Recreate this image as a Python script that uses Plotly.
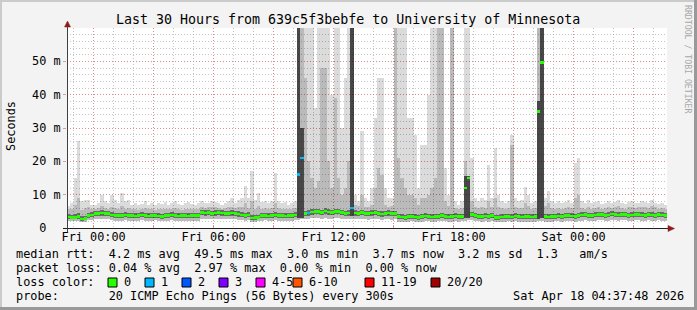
import numpy as np
import pandas as pd
import plotly.graph_objects as go

# ---------------- data (ms), one value per 10-minute step ----------------
median = [
    3.3, 3.2, 3.2, 3.4, 2.7, 2.8, 3.8, 3.9, 4.3, 4.4,
    4.5, 4.4, 4.3, 3.9, 3.8, 3.7, 3.8, 3.9, 3.7, 3.8,
    3.6, 3.7, 3.9, 3.8, 3.6, 3.7, 3.8, 3.6, 3.5, 3.7,
    3.8, 3.9, 3.7, 3.6, 3.8, 3.7, 3.6, 3.8, 3.7, 3.8,
    4.6, 4.5, 4.6, 4.4, 4.5, 4.6, 4.5, 4.3, 4.4, 4.5,
    4.4, 4.2, 3.9, 3.8, 3.9, 3.0, 3.1, 3.2, 3.7, 3.8,
    3.6, 3.7, 3.9, 3.8, 3.7, 3.6, 3.8, 3.7, 3.9, 16.0,
    21.0, 4.4, 4.5, 4.8, 5.0, 4.9, 4.7, 5.1, 4.8, 4.6,
    4.9, 5.0, 4.7, 4.3, 4.5, 6.0, 4.5, 4.4, 4.6, 4.4,
    4.3, 4.5, 4.7, 4.4, 4.2, 4.4, 4.5, 4.3, 4.4, 3.4,
    3.3, 3.2, 3.4, 3.5, 3.3, 3.2, 3.4, 3.6, 3.5, 3.3,
    3.4, 3.5, 3.7, 3.5, 3.3, 3.4, 3.6, 3.4, 3.5, 12.0,
    15.0, 4.0, 3.7, 3.5, 3.4, 3.6, 3.5, 3.7, 3.2, 3.1,
    3.3, 3.4, 3.5, 3.3, 3.6, 3.4, 3.3, 3.5, 3.4, 3.3,
    3.4, 35.0, 49.7, 3.4, 3.3, 3.4, 3.5, 3.6, 3.5, 3.7,
    3.8, 3.6, 3.5, 3.7, 3.9, 4.0, 3.8, 3.7, 3.9, 4.1,
    4.0, 3.8, 3.9, 4.2, 4.0, 3.9, 4.1, 4.0, 3.8, 3.9,
    4.0, 4.1, 3.9, 3.8, 4.0, 3.9, 3.8, 4.0, 3.9, 3.8,
]
loss = [
    0, 0, 0, 0, 0, 0, 0, 0, 0, 0,
    0, 0, 0, 0, 0, 0, 0, 0, 0, 0,
    0, 0, 0, 0, 0, 0, 0, 0, 0, 0,
    0, 0, 0, 0, 0, 0, 0, 0, 0, 0,
    0, 0, 0, 0, 0, 0, 0, 0, 0, 0,
    0, 0, 0, 0, 0, 0, 0, 0, 0, 0,
    0, 0, 0, 0, 0, 0, 0, 0, 0, 1,
    1, 0, 1, 0, 0, 0, 0, 0, 0, 0,
    0, 0, 0, 0, 0, 1, 0, 0, 0, 0,
    0, 0, 0, 0, 0, 0, 0, 0, 0, 0,
    0, 0, 0, 0, 0, 0, 0, 0, 0, 0,
    0, 0, 0, 0, 0, 0, 0, 0, 0, 0,
    0, 0, 0, 0, 0, 0, 0, 0, 0, 0,
    0, 0, 0, 0, 0, 0, 0, 0, 0, 0,
    0, 0, 0, 0, 0, 0, 0, 0, 0, 0,
    0, 0, 0, 0, 0, 0, 0, 0, 0, 0,
    0, 0, 0, 0, 0, 0, 0, 0, 0, 0,
    0, 0, 0, 0, 0, 0, 0, 0, 0, 0,
]
ping_max = [
    6.5, 7.5, 15, 26, 8, 8.4, 8.4, 7, 6.8, 7.5,
    10, 8, 7.5, 10, 8.5, 7.5, 10.5, 8, 8.4, 7,
    7.5, 6.8, 7.2, 8, 7, 7.4, 6.8, 7.6, 7.2, 7.8,
    7, 7.4, 8, 7.2, 6.8, 7.5, 7.8, 7.2, 7, 7.6,
    8, 7.6, 7.4, 8.2, 7.8, 7.4, 7, 7.6, 8, 9,
    7.4, 8.5, 9, 12.6, 9, 17, 8.5, 10.5, 7.8, 8,
    7.5, 8.2, 16.5, 8, 7.4, 7.8, 7, 7.6, 8, 61,
    61, 61, 61, 61, 36, 61, 61, 61, 61, 40,
    61, 61, 30, 45, 61, 61, 10, 8, 29, 9,
    8, 12, 33, 45, 45, 12, 9, 9, 61, 61,
    61, 61, 33, 33, 28, 12, 25, 25, 40, 61,
    61, 61, 61, 18, 10, 61, 8, 7, 8, 61,
    61, 21, 9, 8, 9, 8.5, 19, 9, 24, 10,
    8, 7.5, 8, 28, 9, 8, 8.5, 12.3, 10, 7.5,
    8, 61, 61, 9, 11, 8, 7.5, 8, 7.4, 7.8,
    8.4, 7.6, 19.5, 21, 8, 7.5, 8.4, 7.4, 7.8, 8,
    7.2, 7.6, 8.2, 7.4, 7.8, 8.4, 7.6, 7.2, 7.8, 8,
    7.4, 7.6, 8.2, 7.8, 7.4, 8.4, 7.6, 7.2, 7.5, 7.0,
]
ping_p80 = [
    5.6, 5.8, 7, 9, 5.5, 6, 6.2, 5.8, 5.6, 6,
    6.5, 6, 5.8, 6.4, 6, 5.6, 6.5, 5.8, 6, 5.6,
    5.6, 5.4, 5.6, 6, 5.6, 5.8, 5.4, 5.8, 5.6, 5.8,
    5.6, 5.8, 6, 5.6, 5.4, 5.8, 5.8, 5.6, 5.6, 5.8,
    6.2, 6, 6.2, 6.4, 6.2, 6, 5.8, 6, 6.2, 6.4,
    6, 6.2, 6.4, 7.5, 6, 8, 5.8, 6.5, 5.8, 6,
    5.6, 6, 7.5, 6, 5.8, 5.8, 5.6, 5.8, 6, 61,
    61, 45, 20, 15, 12, 14, 48, 48, 20, 12,
    39, 15, 10, 12, 20, 61, 7, 6.5, 10, 6.4,
    6.2, 7, 12, 18, 16, 7, 6.4, 6.5, 61, 21,
    15, 12, 10, 10, 9, 7, 9, 9, 10, 12,
    15, 61, 61, 8, 6.5, 61, 6, 5.6, 6, 20,
    14, 8, 6.4, 6, 6.2, 6, 8, 6.2, 9, 6.4,
    6, 5.8, 6, 25, 6.2, 6, 6, 7.5, 6.5, 5.8,
    6, 61, 61, 6.5, 7.5, 6, 5.8, 6, 5.8, 6,
    6.2, 6, 9, 10, 6, 5.8, 6.4, 5.8, 6, 6.2,
    5.8, 6, 6.4, 6, 6.2, 6.6, 6, 5.8, 6.2, 6.4,
    6, 6.2, 6.4, 6.2, 6, 6.6, 6.2, 5.8, 6, 5.8,
]
ping_min = [
    2.2, 2.1, 2.0, 2.2, 1.8, 1.9, 2.3, 2.4, 2.6, 2.7,
    2.8, 2.7, 2.6, 2.3, 2.2, 2.1, 2.2, 2.3, 2.1, 2.2,
    2.1, 2.2, 2.3, 2.2, 2.1, 2.2, 2.3, 2.1, 2.0, 2.2,
    2.2, 2.3, 2.1, 2.0, 2.2, 2.1, 2.0, 2.2, 2.1, 2.2,
    2.8, 2.7, 2.8, 2.6, 2.7, 2.8, 2.7, 2.6, 2.6, 2.7,
    2.6, 2.5, 2.3, 2.2, 2.3, 1.8, 1.9, 2.0, 2.2, 2.3,
    2.1, 2.2, 2.3, 2.2, 2.1, 2.0, 2.2, 2.1, 2.3, 2.4,
    2.6, 2.6, 2.7, 2.9, 3.0, 2.9, 2.8, 3.0, 2.8, 2.7,
    2.9, 3.0, 2.8, 2.6, 2.7, 2.8, 2.7, 2.6, 2.8, 2.6,
    2.5, 2.7, 2.8, 2.6, 2.5, 2.6, 2.7, 2.5, 2.6, 1.9,
    1.9, 1.8, 1.9, 2.0, 1.9, 1.8, 1.9, 2.0, 2.0, 1.9,
    1.9, 2.0, 2.1, 2.0, 1.9, 1.9, 2.0, 1.9, 2.0, 2.2,
    2.4, 2.3, 2.1, 2.0, 1.9, 2.0, 1.9, 2.1, 1.8, 1.7,
    1.8, 1.9, 2.0, 1.8, 2.0, 1.9, 1.8, 1.9, 1.9, 1.8,
    1.9, 2.0, 2.2, 1.9, 1.8, 1.9, 2.0, 2.0, 1.9, 2.1,
    2.2, 2.0, 1.9, 2.1, 2.2, 2.3, 2.2, 2.1, 2.2, 2.4,
    2.3, 2.2, 2.2, 2.5, 2.3, 2.2, 2.4, 2.3, 2.2, 2.2,
    2.3, 2.4, 2.2, 2.1, 2.3, 2.2, 2.1, 2.3, 2.2, 2.1,
]
dense_lo = [
    2.7, 2.6, 2.6, 2.8, 2.2, 2.3, 3.1, 3.2, 3.5, 3.6,
    3.7, 3.6, 3.5, 3.2, 3.1, 3.0, 3.1, 3.2, 3.0, 3.1,
    2.9, 3.0, 3.2, 3.1, 2.9, 3.0, 3.1, 2.9, 2.8, 3.0,
    3.1, 3.2, 3.0, 2.9, 3.1, 3.0, 2.9, 3.1, 3.0, 3.1,
    3.8, 3.7, 3.8, 3.6, 3.7, 3.8, 3.7, 3.5, 3.6, 3.7,
    3.6, 3.4, 3.2, 3.1, 3.2, 2.4, 2.5, 2.6, 3.0, 3.1,
    2.9, 3.0, 3.2, 3.1, 3.0, 2.9, 3.1, 3.0, 3.2, 3.0,
    3.0, 3.6, 3.7, 4.0, 4.2, 4.1, 3.9, 4.3, 4.0, 3.8,
    4.1, 4.2, 3.9, 3.5, 3.7, 3.5, 3.7, 3.6, 3.8, 3.6,
    3.5, 3.7, 3.9, 3.6, 3.4, 3.6, 3.7, 3.5, 3.6, 2.7,
    2.6, 2.5, 2.7, 2.8, 2.6, 2.5, 2.7, 2.9, 2.8, 2.6,
    2.7, 2.8, 3.0, 2.8, 2.6, 2.7, 2.9, 2.7, 2.8, 3.0,
    3.0, 3.2, 3.0, 2.8, 2.7, 2.9, 2.8, 3.0, 2.5, 2.4,
    2.6, 2.7, 2.8, 2.6, 2.9, 2.7, 2.6, 2.8, 2.7, 2.6,
    2.7, 2.8, 3.0, 2.7, 2.6, 2.7, 2.8, 2.9, 2.8, 3.0,
    3.1, 2.9, 2.8, 3.0, 3.2, 3.3, 3.1, 3.0, 3.2, 3.4,
    3.3, 3.1, 3.2, 3.5, 3.3, 3.2, 3.4, 3.3, 3.1, 3.2,
    3.3, 3.4, 3.2, 3.1, 3.3, 3.2, 3.1, 3.3, 3.2, 3.1,
]
dense_hi = [
    4.1, 4.0, 4.1, 4.4, 3.6, 3.7, 4.6, 4.7, 5.1, 5.2,
    5.3, 5.2, 5.1, 4.7, 4.6, 4.5, 4.6, 4.7, 4.5, 4.6,
    4.4, 4.5, 4.7, 4.6, 4.4, 4.5, 4.6, 4.4, 4.3, 4.5,
    4.6, 4.7, 4.5, 4.4, 4.6, 4.5, 4.4, 4.6, 4.5, 4.6,
    5.4, 5.3, 5.4, 5.2, 5.3, 5.4, 5.3, 5.1, 5.2, 5.3,
    5.2, 5.0, 4.7, 4.6, 4.7, 3.8, 3.9, 4.0, 4.5, 4.6,
    4.4, 4.5, 4.7, 4.6, 4.5, 4.4, 4.6, 4.5, 4.7, 61,
    30, 5.2, 5.3, 5.6, 5.8, 5.7, 5.5, 5.9, 5.6, 5.4,
    5.7, 5.8, 5.5, 5.1, 5.3, 61, 5.3, 5.2, 5.4, 5.2,
    5.1, 5.3, 5.5, 5.2, 5.0, 5.2, 5.3, 5.1, 5.2, 4.2,
    4.1, 4.0, 4.2, 4.3, 4.1, 4.0, 4.2, 4.4, 4.3, 4.1,
    4.2, 4.3, 4.5, 4.3, 4.1, 4.2, 4.4, 4.2, 4.3, 15.5,
    15.5, 4.8, 4.5, 4.3, 4.2, 4.4, 4.3, 4.5, 4.0, 3.9,
    4.1, 4.2, 4.3, 4.1, 4.4, 4.2, 4.1, 4.3, 4.2, 4.1,
    4.2, 38, 61, 4.2, 4.1, 4.2, 4.3, 4.4, 4.3, 4.5,
    4.6, 4.4, 4.3, 4.5, 4.7, 4.8, 4.6, 4.5, 4.7, 4.9,
    4.8, 4.6, 4.7, 5.0, 4.8, 4.7, 4.9, 4.8, 4.6, 4.7,
    4.8, 4.9, 4.7, 4.6, 4.8, 4.7, 4.6, 4.8, 4.7, 4.6,
]

x_tick_labels = ["Fri 00:00", "", "Fri 06:00", "", "Fri 12:00", "", "Fri 18:00", "",
                 "Sat 00:00", ""]
y_tick_values = [0, 10, 20, 30, 40, 50]
y_tick_labels = ["0\u00a0\u00a0", "10 m", "20 m", "30 m", "40 m", "50 m"]

loss_labels = ["0", "1", "2", "3", "4-5", "6-10", "11-19", "20/20"]
loss_colors = ["#26ff00", "#00b8ff", "#0059ff", "#7e00ff", "#ff00ff", "#ff5500", "#ff0000", "#a10000"]

title = "Last 30 Hours from 639c5f3bebfe to University of Minnesota"
stat_lines = [
    "median rtt:  4.2 ms avg  49.5 ms max  3.0 ms min  3.7 ms now  3.2 ms sd  1.3   am/s",
    "packet loss: 0.04 % avg  2.97 % max  0.00 % min  0.00 % now",
    "loss color:",
    "probe:       20 ICMP Echo Pings (56 Bytes) every 300s",
]
stamp = "Sat Apr 18 04:37:48 2026"
watermark = "RRDTOOL / TOBI OETIKER"

# ---------------- geometry ----------------
W, H = 697, 310
PL, PR, PT, PB = 67, 667, 28, 228
MONO = "DejaVu Sans Mono"
FS = 11.85


def px(x):
    return (x - PL) / (PR - PL)


def py(y):
    return (PB - y) / (PB - PT)


def nb(s):
    return s.replace(" ", "\u00a0")


t_start = pd.Timestamp("2026-04-16 22:40")
t_end = pd.Timestamp("2026-04-18 04:40")
step_ms = 10 * 60 * 1000
times = pd.date_range(t_start + pd.Timedelta(minutes=5), periods=len(median), freq="10min")

med = np.array(median)
lo = np.array(ping_min)
hi = np.array(ping_max)
p80 = np.array(ping_p80)
dlo = np.array(dense_lo)
dhi = np.array(dense_hi)

fig = go.Figure()
fig.add_trace(go.Bar(x=times, y=hi - lo, base=lo, width=step_ms,
                     marker=dict(color="rgba(0,0,0,0.14)", line=dict(width=0)), hoverinfo="skip"))
fig.add_trace(go.Bar(x=times, y=p80 - lo, base=lo, width=step_ms,
                     marker=dict(color="rgba(0,0,0,0.15)", line=dict(width=0)), hoverinfo="skip"))
dark_cols = ["rgba(0,0,0,0.62)" if (h - l) > 5 else "rgba(0,0,0,0.42)" for h, l in zip(dhi, dlo)]
fig.add_trace(go.Bar(x=times, y=dhi - dlo, base=dlo, width=step_ms,
                     marker=dict(color=dark_cols, line=dict(width=0)), hoverinfo="skip"))
lw = 0.85
fig.add_trace(go.Bar(x=times, y=[lw] * len(med), base=med - lw / 2, width=step_ms,
                     marker=dict(color=[loss_colors[k] for k in loss], line=dict(width=0)),
                     hoverinfo="skip"))

tickvals = pd.date_range("2026-04-17 00:00", periods=len(x_tick_labels), freq="3h")

major_grid = "rgba(225,120,120,0.75)"
minor_grid = "rgba(150,150,150,0.55)"
fig.update_layout(
    width=W, height=H,
    margin=dict(l=PL, r=W - PR, t=PT, b=H - PB, pad=0),
    paper_bgcolor="#f3f3f3", plot_bgcolor="#ffffff",
    barmode="overlay", bargap=0, showlegend=False,
    font=dict(family=MONO, size=FS, color="#000000"),
    xaxis=dict(type="date", range=[t_start, t_end], tickvals=tickvals, ticktext=x_tick_labels,
               showgrid=True, gridcolor=major_grid, griddash="1px,2px", gridwidth=1,
               ticks="inside", ticklen=3, tickcolor=major_grid, showline=False, zeroline=False,
               tickfont=dict(family=MONO, size=FS, color="#000"), tickangle=0,
               minor=dict(dtick=3600000, tick0="2026-04-17 00:00", showgrid=True,
                          gridcolor=minor_grid, griddash="1px,2px", gridwidth=1, ticks="")),
    yaxis=dict(range=[0, 60], tickvals=y_tick_values, ticktext=y_tick_labels,
               showgrid=True, gridcolor=major_grid, griddash="1px,2px", gridwidth=1,
               ticks="outside", ticklen=3, tickcolor=major_grid, showline=False, zeroline=False,
               tickfont=dict(family=MONO, size=FS, color="#000"),
               minor=dict(dtick=2, tick0=0, showgrid=True, gridcolor=minor_grid,
                          griddash="1px,2px", gridwidth=1, ticks="")),
)

shapes = []
# 3-D border
shapes.append(dict(type="line", xref="paper", yref="paper", x0=px(0), x1=px(W), y0=py(1), y1=py(1),
                   line=dict(color="#cbcbcb", width=2)))
shapes.append(dict(type="line", xref="paper", yref="paper", x0=px(1), x1=px(1), y0=py(0), y1=py(H),
                   line=dict(color="#cbcbcb", width=2)))
shapes.append(dict(type="line", xref="paper", yref="paper", x0=px(0), x1=px(W), y0=py(H - 1.5), y1=py(H - 1.5),
                   line=dict(color="#999999", width=3)))
shapes.append(dict(type="line", xref="paper", yref="paper", x0=px(W - 1.5), x1=px(W - 1.5), y0=py(0), y1=py(H),
                   line=dict(color="#999999", width=3)))
# axes with arrows
shapes.append(dict(type="line", xref="paper", yref="paper", x0=px(63), x1=px(670), y0=py(228.5), y1=py(228.5),
                   line=dict(color="#202020", width=1)))
shapes.append(dict(type="line", xref="paper", yref="paper", x0=px(67.5), x1=px(67.5), y0=py(232), y1=py(24),
                   line=dict(color="#404040", width=1)))
ax_col = "#8c1c1c"
shapes.append(dict(type="path", xref="paper", yref="paper",
                   path=f"M {px(674.5)} {py(228.5)} L {px(668)} {py(225.5)} L {px(668)} {py(231.5)} Z",
                   fillcolor=ax_col, line=dict(color=ax_col, width=0.5)))
shapes.append(dict(type="path", xref="paper", yref="paper",
                   path=f"M {px(67.5)} {py(21)} L {px(64.5)} {py(27)} L {px(70.5)} {py(27)} Z",
                   fillcolor=ax_col, line=dict(color=ax_col, width=0.5)))

annotations = []
annotations.append(dict(text=nb(title), xref="paper", yref="paper", x=px(347.5), y=py(19),
                        xanchor="center", yanchor="middle", showarrow=False, borderpad=0,
                        font=dict(family=MONO, size=13.3, color="#000")))
annotations.append(dict(text="Seconds", xref="paper", yref="paper", x=px(11), y=py(126),
                        xanchor="center", yanchor="middle", showarrow=False, textangle=-90, borderpad=0,
                        font=dict(family=MONO, size=FS, color="#000")))
annotations.append(dict(text=nb(watermark), xref="paper", yref="paper", x=px(688), y=py(59),
                        xanchor="center", yanchor="middle", showarrow=False, textangle=90, borderpad=0,
                        font=dict(family=MONO, size=8.2, color="#a8a8a8")))
line_y = [254, 268, 282, 296]
for txt, yy in zip(stat_lines, line_y):
    annotations.append(dict(text=nb(txt), xref="paper", yref="paper", x=px(15), y=py(yy),
                            xanchor="left", yanchor="middle", showarrow=False, borderpad=0,
                            font=dict(family=MONO, size=FS, color="#000")))
annotations.append(dict(text=nb(stamp), xref="paper", yref="paper", x=px(512), y=py(296),
                        xanchor="left", yanchor="middle", showarrow=False, borderpad=0,
                        font=dict(family=MONO, size=FS, color="#000")))
box_x = [108, 145, 182, 219, 256, 293, 365, 431]
for bx, lab, col in zip(box_x, loss_labels, loss_colors):
    shapes.append(dict(type="rect", xref="paper", yref="paper", x0=px(bx), x1=px(bx + 9),
                       y0=py(278), y1=py(287), fillcolor=col, line=dict(color="#000", width=1)))
    annotations.append(dict(text=nb(lab), xref="paper", yref="paper", x=px(bx + 15), y=py(282),
                            xanchor="left", yanchor="middle", showarrow=False, borderpad=0,
                            font=dict(family=MONO, size=FS, color="#000")))

fig.update_layout(shapes=shapes, annotations=annotations)
fig.write_html("out.html")
